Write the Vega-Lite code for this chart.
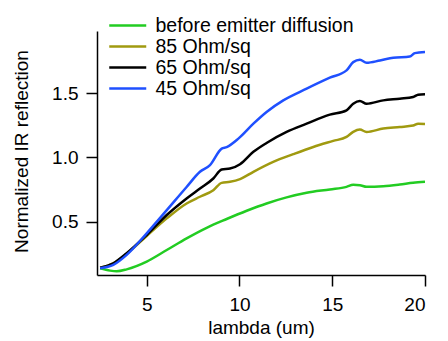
{
  "$schema": "https://vega.github.io/schema/vega-lite/v6.json",
  "width": 328,
  "height": 244,
  "autosize": {"type": "none"},
  "padding": {"left": 97, "top": 31, "right": 23, "bottom": 66},
  "background": "white",
  "config": {
    "view": {"stroke": null},
    "font": "Liberation Sans",
    "axis": {
      "grid": false,
      "domainColor": "black",
      "domainWidth": 1.5,
      "tickColor": "black",
      "tickWidth": 1.5,
      "tickSize": 11,
      "labelFont": "Liberation Sans",
      "labelFontSize": 19,
      "labelColor": "black",
      "titleFont": "Liberation Sans",
      "titleFontSize": 19,
      "titleFontWeight": "normal",
      "titleColor": "black"
    },
    "legend": {
      "labelFont": "Liberation Sans",
      "labelFontSize": 19.5,
      "labelColor": "black",
      "labelLimit": 0
    }
  },
  "data": {
    "values": [
      {"series": "before emitter diffusion", "lambda": 2.49, "r": 0.138},
      {"series": "before emitter diffusion", "lambda": 3.03, "r": 0.12},
      {"series": "before emitter diffusion", "lambda": 3.38, "r": 0.115},
      {"series": "before emitter diffusion", "lambda": 3.92, "r": 0.13},
      {"series": "before emitter diffusion", "lambda": 5.0, "r": 0.19},
      {"series": "before emitter diffusion", "lambda": 6.08, "r": 0.28},
      {"series": "before emitter diffusion", "lambda": 7.15, "r": 0.371},
      {"series": "before emitter diffusion", "lambda": 8.23, "r": 0.453},
      {"series": "before emitter diffusion", "lambda": 9.31, "r": 0.521},
      {"series": "before emitter diffusion", "lambda": 10.39, "r": 0.585},
      {"series": "before emitter diffusion", "lambda": 11.46, "r": 0.642},
      {"series": "before emitter diffusion", "lambda": 12.54, "r": 0.689},
      {"series": "before emitter diffusion", "lambda": 13.62, "r": 0.725},
      {"series": "before emitter diffusion", "lambda": 14.87, "r": 0.751},
      {"series": "before emitter diffusion", "lambda": 15.77, "r": 0.771},
      {"series": "before emitter diffusion", "lambda": 16.13, "r": 0.787},
      {"series": "before emitter diffusion", "lambda": 16.49, "r": 0.784},
      {"series": "before emitter diffusion", "lambda": 16.85, "r": 0.771},
      {"series": "before emitter diffusion", "lambda": 17.75, "r": 0.776},
      {"series": "before emitter diffusion", "lambda": 18.64, "r": 0.789},
      {"series": "before emitter diffusion", "lambda": 19.36, "r": 0.802},
      {"series": "before emitter diffusion", "lambda": 20.0, "r": 0.81},

      {"series": "85 Ohm/sq", "lambda": 2.49, "r": 0.143},
      {"series": "85 Ohm/sq", "lambda": 3.2, "r": 0.177},
      {"series": "85 Ohm/sq", "lambda": 3.92, "r": 0.25},
      {"series": "85 Ohm/sq", "lambda": 5.0, "r": 0.389},
      {"series": "85 Ohm/sq", "lambda": 6.08, "r": 0.526},
      {"series": "85 Ohm/sq", "lambda": 7.15, "r": 0.642},
      {"series": "85 Ohm/sq", "lambda": 7.87, "r": 0.694},
      {"series": "85 Ohm/sq", "lambda": 8.59, "r": 0.745},
      {"series": "85 Ohm/sq", "lambda": 9.04, "r": 0.802},
      {"series": "85 Ohm/sq", "lambda": 9.49, "r": 0.81},
      {"series": "85 Ohm/sq", "lambda": 10.03, "r": 0.831},
      {"series": "85 Ohm/sq", "lambda": 10.75, "r": 0.888},
      {"series": "85 Ohm/sq", "lambda": 11.82, "r": 0.965},
      {"series": "85 Ohm/sq", "lambda": 12.9, "r": 1.025},
      {"series": "85 Ohm/sq", "lambda": 13.98, "r": 1.081},
      {"series": "85 Ohm/sq", "lambda": 15.05, "r": 1.128},
      {"series": "85 Ohm/sq", "lambda": 15.77, "r": 1.159},
      {"series": "85 Ohm/sq", "lambda": 16.13, "r": 1.198},
      {"series": "85 Ohm/sq", "lambda": 16.49, "r": 1.216},
      {"series": "85 Ohm/sq", "lambda": 16.85, "r": 1.198},
      {"series": "85 Ohm/sq", "lambda": 17.75, "r": 1.224},
      {"series": "85 Ohm/sq", "lambda": 18.64, "r": 1.236},
      {"series": "85 Ohm/sq", "lambda": 19.36, "r": 1.247},
      {"series": "85 Ohm/sq", "lambda": 19.63, "r": 1.262},
      {"series": "85 Ohm/sq", "lambda": 20.0, "r": 1.26},

      {"series": "65 Ohm/sq", "lambda": 2.49, "r": 0.143},
      {"series": "65 Ohm/sq", "lambda": 3.2, "r": 0.177},
      {"series": "65 Ohm/sq", "lambda": 3.92, "r": 0.255},
      {"series": "65 Ohm/sq", "lambda": 5.0, "r": 0.397},
      {"series": "65 Ohm/sq", "lambda": 6.08, "r": 0.552},
      {"series": "65 Ohm/sq", "lambda": 7.15, "r": 0.681},
      {"series": "65 Ohm/sq", "lambda": 7.87, "r": 0.758},
      {"series": "65 Ohm/sq", "lambda": 8.59, "r": 0.836},
      {"series": "65 Ohm/sq", "lambda": 9.04, "r": 0.906},
      {"series": "65 Ohm/sq", "lambda": 9.49, "r": 0.913},
      {"series": "65 Ohm/sq", "lambda": 10.03, "r": 0.947},
      {"series": "65 Ohm/sq", "lambda": 10.75, "r": 1.043},
      {"series": "65 Ohm/sq", "lambda": 11.46, "r": 1.112},
      {"series": "65 Ohm/sq", "lambda": 12.54, "r": 1.198},
      {"series": "65 Ohm/sq", "lambda": 13.62, "r": 1.262},
      {"series": "65 Ohm/sq", "lambda": 14.87, "r": 1.332},
      {"series": "65 Ohm/sq", "lambda": 15.77, "r": 1.366},
      {"series": "65 Ohm/sq", "lambda": 16.13, "r": 1.417},
      {"series": "65 Ohm/sq", "lambda": 16.49, "r": 1.438},
      {"series": "65 Ohm/sq", "lambda": 16.85, "r": 1.417},
      {"series": "65 Ohm/sq", "lambda": 17.75, "r": 1.443},
      {"series": "65 Ohm/sq", "lambda": 18.64, "r": 1.456},
      {"series": "65 Ohm/sq", "lambda": 19.36, "r": 1.469},
      {"series": "65 Ohm/sq", "lambda": 19.63, "r": 1.487},
      {"series": "65 Ohm/sq", "lambda": 20.0, "r": 1.49},

      {"series": "45 Ohm/sq", "lambda": 2.49, "r": 0.138},
      {"series": "45 Ohm/sq", "lambda": 3.2, "r": 0.164},
      {"series": "45 Ohm/sq", "lambda": 3.92, "r": 0.242},
      {"series": "45 Ohm/sq", "lambda": 5.0, "r": 0.41},
      {"series": "45 Ohm/sq", "lambda": 6.08, "r": 0.59},
      {"series": "45 Ohm/sq", "lambda": 7.15, "r": 0.77},
      {"series": "45 Ohm/sq", "lambda": 7.87, "r": 0.888},
      {"series": "45 Ohm/sq", "lambda": 8.41, "r": 0.94},
      {"series": "45 Ohm/sq", "lambda": 9.04, "r": 1.068},
      {"series": "45 Ohm/sq", "lambda": 9.31, "r": 1.08},
      {"series": "45 Ohm/sq", "lambda": 9.94, "r": 1.146},
      {"series": "45 Ohm/sq", "lambda": 10.75, "r": 1.262},
      {"series": "45 Ohm/sq", "lambda": 11.46, "r": 1.353},
      {"series": "45 Ohm/sq", "lambda": 12.36, "r": 1.443},
      {"series": "45 Ohm/sq", "lambda": 13.62, "r": 1.534},
      {"series": "45 Ohm/sq", "lambda": 14.87, "r": 1.619},
      {"series": "45 Ohm/sq", "lambda": 15.77, "r": 1.676},
      {"series": "45 Ohm/sq", "lambda": 16.13, "r": 1.74},
      {"series": "45 Ohm/sq", "lambda": 16.49, "r": 1.758},
      {"series": "45 Ohm/sq", "lambda": 16.85, "r": 1.735},
      {"series": "45 Ohm/sq", "lambda": 17.57, "r": 1.753},
      {"series": "45 Ohm/sq", "lambda": 18.29, "r": 1.774},
      {"series": "45 Ohm/sq", "lambda": 19.18, "r": 1.784},
      {"series": "45 Ohm/sq", "lambda": 19.45, "r": 1.81},
      {"series": "45 Ohm/sq", "lambda": 20.0, "r": 1.818}
    ]
  },
  "mark": {"type": "line", "strokeWidth": 2.5, "interpolate": "monotone", "clip": true},
  "encoding": {
    "x": {
      "field": "lambda",
      "type": "quantitative",
      "scale": {"domain": [2.32, 20], "nice": false, "zero": false},
      "axis": {
        "title": "lambda (um)",
        "values": [5, 10, 15, 20],
        "format": "d",
        "labelPadding": 9,
        "titleY": 58,
        "titleBaseline": "alphabetic"
      }
    },
    "y": {
      "field": "r",
      "type": "quantitative",
      "scale": {"domain": [0.086, 1.982], "nice": false, "zero": false},
      "axis": {
        "title": "Normalized IR reflection",
        "values": [0.5, 1.0, 1.5],
        "format": ".1f",
        "labelPadding": 8,
        "titleX": -70,
        "titleY": 120,
        "titleAlign": "center",
        "titleBaseline": "alphabetic",
        "titleAngle": -90
      }
    },
    "color": {
      "field": "series",
      "type": "nominal",
      "sort": null,
      "scale": {
        "domain": ["before emitter diffusion", "85 Ohm/sq", "65 Ohm/sq", "45 Ohm/sq"],
        "range": ["#22cc22", "#a09a10", "#000000", "#1f50ff"]
      },
      "legend": {
        "title": null,
        "orient": "none",
        "legendX": 11,
        "legendY": -16,
        "padding": 0,
        "symbolType": "M-1,0H3",
        "symbolSize": 342,
        "symbolStrokeWidth": 2.5,
        "symbolFillColor": "transparent",
        "labelOffset": 26.5,
        "labelLimit": 0,
        "rowPadding": 1
      }
    }
  }
}
